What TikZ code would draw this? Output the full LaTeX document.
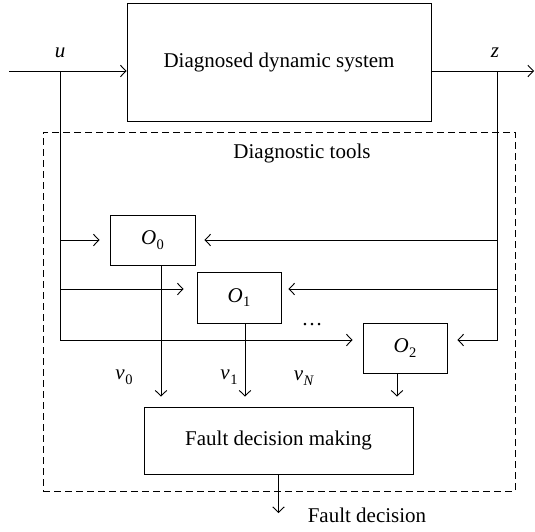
\documentclass[tikz,border=0pt]{standalone}
\usepackage{fontspec}
\setmainfont{Liberation Serif}
\usetikzlibrary{arrows.meta}
\newcommand{\vsub}[2]{\textit{#1}\kern0.5pt\raisebox{-0.22em}{\fontsize{14.5}{16}\selectfont #2}}
\begin{document}
\begin{tikzpicture}[x=1pt,y=-1pt, line width=0.9pt,
  >={Straight Barb[length=5.5pt,width=11.5pt]},
  font=\fontsize{21}{24}\selectfont,
  box/.style={draw, inner sep=0pt},
  lbl/.style={inner sep=0pt}]
\path[use as bounding box] (0,0) rectangle (535,531);
% boxes
\node[box, minimum width=304pt, minimum height=118pt] (sys) at (279,62) {Diagnosed dynamic system};
\node[box, dashed, dash pattern=on 7pt off 4pt, minimum width=472pt, minimum height=359pt] (tools) at (279,311.5) {};
\node[lbl] (tl) at (302,153) {Diagnostic tools};
\node[box, minimum width=85pt, minimum height=50pt] (o0) at (152.5,240) {\vsub{O}{0}};
\node[box, minimum width=84pt, minimum height=51pt] (o1) at (239,297.5) {\vsub{O}{1}};
\node[box, minimum width=84pt, minimum height=50pt] (o2) at (405,348) {\vsub{O}{2}};
\node[box, minimum width=269pt, minimum height=67pt] (fdm) at (278.5,440.5) {Fault decision making};
% coordinates
\coordinate (uin) at (9,71);
\coordinate (uj) at (60,71);
\coordinate (ub) at (60,340);
\coordinate (zj) at (497,71);
\coordinate (zout) at (534,71);
\coordinate (zb) at (497,340);
\coordinate (o1l) at ([yshift=8.5pt]o1.west);
\coordinate (o1r) at ([yshift=8.5pt]o1.east);
\coordinate (v0) at ([xshift=8.5pt]o0.south);
\coordinate (v1) at ([xshift=6pt]o1.south);
\coordinate (v2) at ([xshift=-8pt]o2.south);
\coordinate (fout) at (278.5,513);
% signals
\draw[->] (uin) -- (uin -| sys.west);
\draw[->] (sys.east |- zj) -- (zout);
\node[lbl] (ul) at (60,53) {\textit{u}};
\node[lbl] (zl) at (495,53) {\textit{z}};
\draw[->, shorten >=10pt] (uj) -- (ub) -- (ub -| o2.west);
\draw[->, shorten >=10pt] (zj) -- (zb) -- (zb -| o2.east);
\draw[->, shorten >=10pt] (ub |- o0) -- (o0.west);
\draw[->, shorten >=9pt] (zb |- o0) -- (o0.east);
\draw[->, shorten >=13pt] (ub |- o1l) -- (o1l);
\draw[->, shorten >=7pt] (zb |- o1r) -- (o1r);
\draw[->, shorten >=10pt] (v0) -- (v0 |- fdm.north);
\draw[->, shorten >=10pt] (v1) -- (v1 |- fdm.north);
\draw[->, shorten >=10pt] (v2) -- (v2 |- fdm.north);
\draw[->] (fdm.south) -- (fout);
% labels
\node[lbl] (n0) at (124,377) {\vsub{ν}{0}};
\node[lbl] (n1) at (229,377) {\vsub{ν}{1}};
\node[lbl] (nN) at (304,378) {\vsub{ν}{\textit{N}}};
\node[lbl] (dots) at (312,325) {\ldots};
\node[lbl] (fd) at (367,515) {Fault decision};
\end{tikzpicture}
\end{document}
